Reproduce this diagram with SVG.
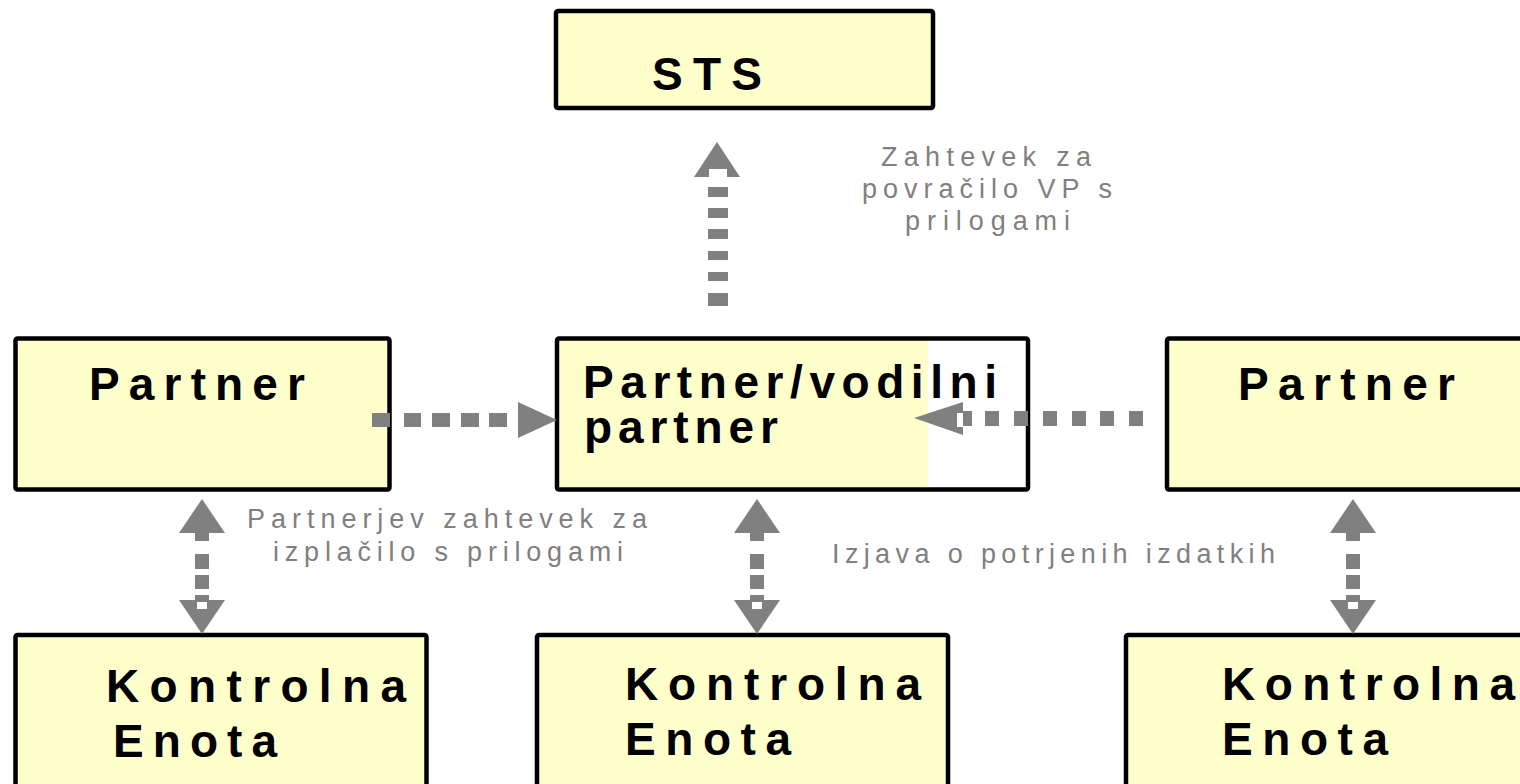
<svg xmlns="http://www.w3.org/2000/svg" width="1520" height="784" viewBox="0 0 1520 784">
  <style>
    .box { fill: #FFFFCC; stroke: #000; stroke-width: 4.5; }
    .frame { fill: none; stroke: #000; stroke-width: 4.5; }
    .lbl { font-family: "Liberation Sans", Arial, sans-serif; font-weight: bold; font-size: 46px; fill: #000; }
    .note { font-family: "Liberation Sans", Arial, sans-serif; font-size: 27px; fill: #808080; }
    .arr { fill: #808080; }
    .hole { fill: #FFFFFF; }
  </style>
  <rect width="1520" height="784" fill="#FFFFFF"/>

  <g id="node-sts">
    <rect class="box" x="556" y="11" width="377" height="97" rx="2"/>
    <text class="lbl" x="652" y="90" textLength="110" lengthAdjust="spacing">STS</text>
  </g>

  <g id="node-partner-left">
    <rect class="box" x="15.5" y="338.5" width="374" height="151" rx="2"/>
    <text class="lbl" x="89" y="400" textLength="216" lengthAdjust="spacing">Partner</text>
  </g>

  <g id="node-partner-lead">
    <rect x="557" y="338.5" width="471" height="151" fill="#FFFFFF"/>
    <rect x="557" y="338.5" width="371" height="151" fill="#FFFFCC"/>
    <rect class="frame" x="557" y="338.5" width="471" height="151" rx="2"/>
    <text class="lbl" x="583" y="398" textLength="414" lengthAdjust="spacing">Partner/vodilni</text>
    <text class="lbl" x="584" y="443" textLength="194" lengthAdjust="spacing">partner</text>
  </g>

  <g id="node-partner-right">
    <rect class="box" x="1167" y="338.5" width="370" height="151" rx="2"/>
    <text class="lbl" x="1238" y="400" textLength="217" lengthAdjust="spacing">Partner</text>
  </g>

  <g id="node-ke-left">
    <rect class="box" x="15.5" y="635" width="411" height="170" rx="2"/>
    <text class="lbl" x="106" y="702" textLength="300" lengthAdjust="spacing">Kontrolna</text>
    <text class="lbl" x="113" y="757" textLength="164" lengthAdjust="spacing">Enota</text>
  </g>

  <g id="node-ke-mid">
    <rect class="box" x="537" y="635" width="411" height="170" rx="2"/>
    <text class="lbl" x="625" y="700" textLength="296" lengthAdjust="spacing">Kontrolna</text>
    <text class="lbl" x="625" y="755" textLength="166" lengthAdjust="spacing">Enota</text>
  </g>

  <g id="node-ke-right">
    <rect class="box" x="1126" y="635" width="420" height="170" rx="2"/>
    <text class="lbl" x="1222" y="700" textLength="293" lengthAdjust="spacing">Kontrolna</text>
    <text class="lbl" x="1222" y="755" textLength="166" lengthAdjust="spacing">Enota</text>
  </g>

  <g id="connectors">
    <g id="conn-lead-sts">
      <polygon class="arr" points="717,142 740,177 694,177"/>
      <rect class="hole" x="709" y="169" width="18" height="8"/>
      <rect class="arr" x="708" y="187" width="20" height="10"/>
      <rect class="arr" x="708" y="208" width="20" height="10"/>
      <rect class="arr" x="708" y="229" width="20" height="10"/>
      <rect class="arr" x="708" y="251" width="20" height="9"/>
      <rect class="arr" x="708" y="272" width="20" height="9"/>
      <rect class="arr" x="708" y="293" width="20" height="13"/>
    </g>
    <g id="conn-left-lead">
      <rect class="arr" x="372" y="413" width="18" height="14"/>
      <rect class="arr" x="404" y="413" width="17" height="14"/>
      <rect class="arr" x="432" y="413" width="18" height="14"/>
      <rect class="arr" x="461" y="413" width="18" height="14"/>
      <rect class="arr" x="489" y="413" width="18" height="14"/>
      <polygon class="arr" points="518,402 557,420 518,438"/>
    </g>
    <g id="conn-right-lead">
      <polygon class="arr" points="914,418 963,402 963,435"/>
      <rect class="hole" x="957" y="413" width="6" height="14"/>
      <rect class="arr" x="963" y="411" width="9" height="15"/>
      <rect class="arr" x="985" y="411" width="14" height="15"/>
      <rect class="arr" x="1014" y="411" width="14" height="15"/>
      <rect class="arr" x="1043" y="411" width="14" height="15"/>
      <rect class="arr" x="1072" y="411" width="14" height="15"/>
      <rect class="arr" x="1100" y="411" width="14" height="15"/>
      <rect class="arr" x="1129" y="411" width="14" height="15"/>
    </g>
    <g id="conn-left-ke">
      <polygon class="arr" points="202,499 225,533 179,533"/>
      <rect class="arr" x="195" y="532" width="14" height="9"/>
      <rect class="arr" x="195" y="554" width="14" height="15"/>
      <rect class="arr" x="195" y="575" width="14" height="14"/>
      <rect class="arr" x="195" y="595" width="14" height="6"/>
      <polygon class="arr" points="179,600 225,600 202,634"/>
      <rect class="hole" x="197" y="602" width="10" height="7"/>
    </g>
    <g id="conn-lead-ke">
      <polygon class="arr" points="757,499 780,533 734,533"/>
      <rect class="arr" x="750" y="532" width="14" height="9"/>
      <rect class="arr" x="750" y="554" width="14" height="15"/>
      <rect class="arr" x="750" y="575" width="14" height="14"/>
      <rect class="arr" x="750" y="595" width="14" height="6"/>
      <polygon class="arr" points="734,600 780,600 757,634"/>
      <rect class="hole" x="752" y="602" width="10" height="7"/>
    </g>
    <g id="conn-right-ke">
      <polygon class="arr" points="1353,499 1376,533 1330,533"/>
      <rect class="arr" x="1346" y="532" width="14" height="9"/>
      <rect class="arr" x="1346" y="554" width="14" height="15"/>
      <rect class="arr" x="1346" y="575" width="14" height="14"/>
      <rect class="arr" x="1346" y="595" width="14" height="6"/>
      <polygon class="arr" points="1330,600 1376,600 1353,634"/>
      <rect class="hole" x="1348" y="602" width="10" height="7"/>
    </g>
  </g>

  <g id="labels">
    <text class="note" x="881" y="166" textLength="210" lengthAdjust="spacing">Zahtevek za</text>
    <text class="note" x="862" y="198" textLength="250" lengthAdjust="spacing">povračilo VP s</text>
    <text class="note" x="905" y="230" textLength="165" lengthAdjust="spacing">prilogami</text>
    <text class="note" x="247" y="528" textLength="400" lengthAdjust="spacing">Partnerjev zahtevek za</text>
    <text class="note" x="273" y="561" textLength="350" lengthAdjust="spacing">izplačilo  s prilogami</text>
    <text class="note" x="832" y="563" textLength="443" lengthAdjust="spacing">Izjava o potrjenih izdatkih</text>
  </g>
</svg>
